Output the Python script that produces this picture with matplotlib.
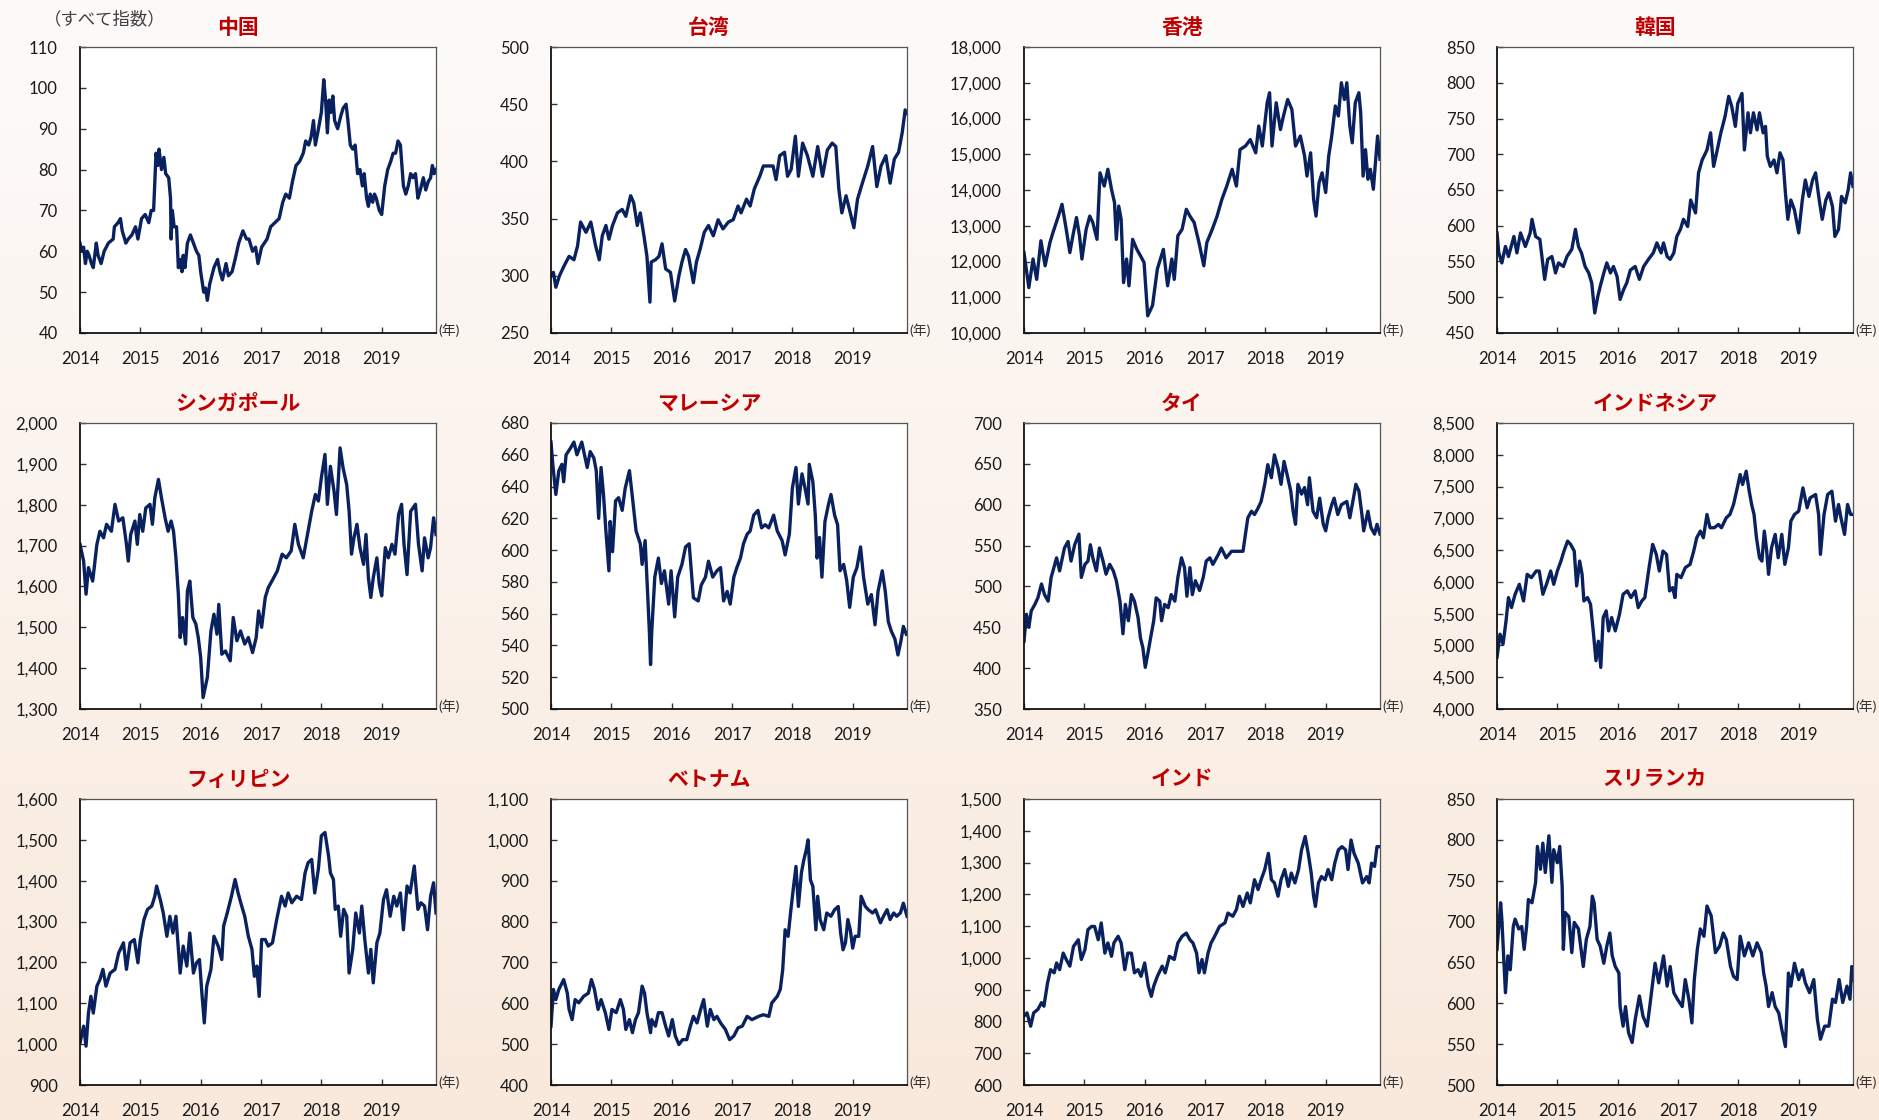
import matplotlib
matplotlib.use('Agg')
import matplotlib.pyplot as plt
import numpy as np
from matplotlib.ticker import FuncFormatter

plt.rcParams['font.family'] = ['Lato', 'Noto Sans CJK JP', 'DejaVu Sans']

# ---------------- data (year, index value) ----------------
years = [2014, 2015, 2016, 2017, 2018, 2019]

china = [(2014.00,62),(2014.03,60),(2014.06,61),(2014.09,57),(2014.12,60),(2014.15,59),(2014.19,57),(2014.22,56),
 (2014.27,62),(2014.30,59),(2014.35,57),(2014.40,60),(2014.47,62),(2014.55,63),(2014.57,66),(2014.63,67),(2014.67,68),
 (2014.70,65),(2014.76,62),(2014.80,63),(2014.86,64),(2014.92,66),(2014.96,63),(2015.02,68),(2015.08,69),(2015.14,67),
 (2015.18,70),(2015.22,70),(2015.26,84),(2015.29,81),(2015.31,85),(2015.35,80),(2015.39,83),(2015.42,79),(2015.47,78),
 (2015.50,73),(2015.51,63),(2015.53,70),(2015.56,66),(2015.60,66),(2015.63,56),(2015.66,58),(2015.69,55),(2015.71,59),
 (2015.74,56),(2015.78,62),(2015.83,64),(2015.88,62),(2015.93,60),(2015.97,59),(2016.00,55),(2016.05,50),(2016.08,51),
 (2016.11,48),(2016.15,52),(2016.22,56),(2016.28,58),(2016.32,55),(2016.36,53),(2016.42,57),(2016.46,54),(2016.52,55),
 (2016.57,58),(2016.63,62),(2016.70,65),(2016.76,63),(2016.80,63),(2016.86,60),(2016.91,61),(2016.95,57),(2017.01,61),
 (2017.10,63),(2017.16,66),(2017.23,67),(2017.30,68),(2017.36,72),(2017.41,74),(2017.47,73),(2017.52,77),(2017.58,81),
 (2017.64,82),(2017.70,84),(2017.74,87),(2017.79,86),(2017.83,88),(2017.87,92),(2017.90,86),(2017.94,89),(2018.00,94),
 (2018.04,102),(2018.07,97),(2018.10,89),(2018.13,97),(2018.16,94),(2018.19,98),(2018.22,92),(2018.27,90),(2018.32,93),
 (2018.36,95),(2018.41,96),(2018.44,92),(2018.48,86),(2018.52,85),(2018.56,86),(2018.60,79),(2018.64,80),(2018.68,76),
 (2018.71,79),(2018.75,73),(2018.78,71),(2018.81,74),(2018.85,72),(2018.88,74),(2018.91,73),(2018.96,70),(2019.00,69),
 (2019.05,76),(2019.10,80),(2019.15,82),(2019.19,84),(2019.23,84),(2019.27,87),(2019.31,86),(2019.36,76),(2019.40,74),
 (2019.44,76),(2019.48,79),(2019.52,78),(2019.56,79),(2019.60,73),(2019.64,75),(2019.69,78),(2019.73,75),(2019.77,77),
 (2019.81,78),(2019.84,81),(2019.87,79),(2019.90,80)]

taiwan = [(2014.00,300),(2014.04,303),(2014.08,290),(2014.14,300),(2014.22,309),(2014.30,317),(2014.38,314),(2014.44,326),
 (2014.49,347),(2014.58,338),(2014.66,347),(2014.74,326),(2014.80,314),(2014.85,335),(2014.91,344),(2014.96,332),
 (2015.02,344),(2015.10,355),(2015.18,358),(2015.24,352),(2015.32,370),(2015.37,364),(2015.43,344),(2015.48,355),
 (2015.54,335),(2015.59,317),(2015.64,277),(2015.66,312),(2015.73,314),(2015.79,317),(2015.84,328),(2015.90,306),
 (2015.98,303),(2016.05,278),(2016.12,300),(2016.17,312),(2016.23,323),(2016.28,317),(2016.36,294),(2016.41,312),
 (2016.47,323),(2016.54,338),(2016.61,344),(2016.69,335),(2016.77,349),(2016.85,341),(2016.94,347),(2017.02,349),
 (2017.10,361),(2017.15,355),(2017.24,367),(2017.30,361),(2017.37,376),(2017.46,387),(2017.52,396),(2017.60,396),
 (2017.68,396),(2017.73,384),(2017.79,405),(2017.87,408),(2017.92,387),(2017.98,393),(2018.05,422),(2018.10,387),
 (2018.17,416),(2018.25,405),(2018.34,387),(2018.42,413),(2018.50,387),(2018.58,410),(2018.66,416),(2018.72,413),
 (2018.77,376),(2018.82,355),(2018.89,370),(2018.96,355),(2019.02,342),(2019.08,367),(2019.16,381),(2019.25,396),
 (2019.33,413),(2019.40,378),(2019.47,396),(2019.55,405),(2019.62,381),(2019.69,402),(2019.76,408),(2019.82,425),
 (2019.87,445),(2019.90,442)]

hongkong = [(2014.00,12250),(2014.08,11270),(2014.15,12070),(2014.21,11500),(2014.28,12580),(2014.35,11880),(2014.43,12530),
 (2014.48,12810),(2014.57,13270),(2014.63,13600),(2014.70,12900),(2014.76,12250),(2014.81,12720),(2014.87,13230),
 (2014.92,12720),(2014.96,12070),(2015.03,12900),(2015.09,13270),(2015.14,13090),(2015.21,12620),(2015.26,14480),
 (2015.33,14110),(2015.39,14580),(2015.45,14020),(2015.50,13650),(2015.53,12620),(2015.57,13550),(2015.61,13180),
 (2015.65,11410),(2015.70,12070),(2015.74,11320),(2015.80,12620),(2015.87,12340),(2015.93,12160),(2015.99,11970),
 (2016.05,10480),(2016.13,10770),(2016.21,11790),(2016.31,12340),(2016.38,11320),(2016.45,12070),(2016.49,11500),
 (2016.55,12720),(2016.62,12900),(2016.69,13460),(2016.75,13270),(2016.82,13090),(2016.90,12530),(2016.98,11880),
 (2017.03,12530),(2017.12,12900),(2017.20,13270),(2017.28,13740),(2017.36,14110),(2017.45,14580),(2017.52,14110),
 (2017.58,15130),(2017.67,15230),(2017.75,15410),(2017.84,15040),(2017.89,15790),(2017.95,15230),(2018.03,16440),
 (2018.07,16720),(2018.11,15230),(2018.18,16440),(2018.25,15690),(2018.30,16070),(2018.37,16530),(2018.44,16250),
 (2018.50,15230),(2018.58,15510),(2018.65,14950),(2018.69,14390),(2018.75,15040),(2018.80,13740),(2018.84,13270),
 (2018.89,14200),(2018.94,14480),(2019.00,13930),(2019.05,14950),(2019.10,15510),(2019.16,16350),(2019.21,16070),
 (2019.26,17000),(2019.31,16530),(2019.35,17000),(2019.40,15790),(2019.44,15320),(2019.49,16440),(2019.55,16720),
 (2019.58,16160),(2019.62,14390),(2019.66,15130),(2019.70,14300),(2019.74,14580),(2019.79,14020),(2019.82,14670),
 (2019.86,15510),(2019.90,14860)]

korea = [(2014.00,590),(2014.03,562),(2014.08,548),(2014.14,571),(2014.19,557),(2014.28,585),(2014.33,562),(2014.39,590),
 (2014.47,571),(2014.55,590),(2014.58,609),(2014.64,585),(2014.71,581),(2014.75,553),(2014.79,525),(2014.84,553),
 (2014.91,557),(2014.97,534),(2015.02,548),(2015.10,543),(2015.16,557),(2015.24,567),(2015.30,595),(2015.35,571),
 (2015.40,562),(2015.46,543),(2015.52,534),(2015.57,520),(2015.62,478),(2015.67,501),(2015.71,515),(2015.77,534),
 (2015.82,548),(2015.88,534),(2015.93,543),(2015.99,529),(2016.04,497),(2016.10,511),(2016.15,520),(2016.21,538),
 (2016.29,543),(2016.36,525),(2016.43,543),(2016.51,553),(2016.59,562),(2016.65,576),(2016.72,562),(2016.76,576),
 (2016.82,557),(2016.87,553),(2016.93,562),(2016.98,585),(2017.04,595),(2017.09,609),(2017.16,599),(2017.21,636),
 (2017.29,618),(2017.34,674),(2017.40,692),(2017.48,706),(2017.54,730),(2017.59,683),(2017.65,706),(2017.71,730),
 (2017.78,753),(2017.84,781),(2017.89,767),(2017.95,739),(2017.99,771),(2018.06,785),(2018.10,706),(2018.16,758),
 (2018.20,730),(2018.25,758),(2018.31,734),(2018.35,758),(2018.41,730),(2018.45,739),(2018.48,697),(2018.53,683),
 (2018.59,692),(2018.64,674),(2018.69,702),(2018.74,692),(2018.78,646),(2018.82,609),(2018.87,636),(2018.93,622),
 (2019.00,590),(2019.06,636),(2019.11,664),(2019.17,641),(2019.23,664),(2019.28,674),(2019.34,636),(2019.39,609),
 (2019.45,636),(2019.50,646),(2019.56,627),(2019.60,585),(2019.66,595),(2019.71,641),(2019.77,632),(2019.82,650),
 (2019.86,674),(2019.90,655)]

singapore = [(2014.00,1703),(2014.06,1662),(2014.10,1581),(2014.14,1646),(2014.21,1613),(2014.28,1703),(2014.33,1735),
 (2014.39,1719),(2014.44,1752),(2014.52,1735),(2014.58,1801),(2014.64,1760),(2014.71,1768),(2014.77,1703),(2014.80,1662),
 (2014.84,1727),(2014.91,1760),(2014.95,1703),(2014.99,1776),(2015.04,1735),(2015.09,1792),(2015.16,1801),(2015.20,1752),
 (2015.24,1817),(2015.30,1862),(2015.35,1817),(2015.41,1768),(2015.46,1735),(2015.51,1760),(2015.55,1735),(2015.59,1670),
 (2015.63,1581),(2015.66,1475),(2015.70,1524),(2015.75,1459),(2015.78,1589),(2015.82,1613),(2015.87,1524),(2015.92,1508),
 (2015.96,1475),(2016.00,1426),(2016.04,1328),(2016.11,1377),(2016.17,1491),(2016.22,1532),(2016.27,1483),(2016.30,1556),
 (2016.35,1434),(2016.41,1442),(2016.49,1418),(2016.54,1524),(2016.60,1467),(2016.66,1491),(2016.73,1459),(2016.79,1475),
 (2016.86,1438),(2016.92,1475),(2016.96,1540),(2017.01,1500),(2017.07,1573),(2017.12,1597),(2017.18,1613),(2017.27,1638),
 (2017.35,1679),(2017.42,1670),(2017.50,1687),(2017.56,1752),(2017.62,1703),(2017.70,1670),(2017.76,1719),(2017.84,1784),
 (2017.90,1825),(2017.95,1809),(2018.00,1866),(2018.06,1923),(2018.10,1801),(2018.15,1894),(2018.21,1833),(2018.25,1776),
 (2018.31,1939),(2018.36,1890),(2018.42,1849),(2018.46,1784),(2018.50,1679),(2018.54,1719),(2018.59,1752),(2018.64,1695),
 (2018.70,1654),(2018.74,1727),(2018.78,1621),(2018.82,1573),(2018.86,1621),(2018.92,1670),(2018.96,1605),(2019.00,1577),
 (2019.06,1695),(2019.11,1670),(2019.17,1703),(2019.22,1679),(2019.28,1776),(2019.33,1801),(2019.37,1703),(2019.42,1629),
 (2019.48,1784),(2019.56,1801),(2019.61,1703),(2019.67,1638),(2019.71,1719),(2019.77,1670),(2019.81,1695),(2019.86,1768),
 (2019.90,1727)]

malaysia = [(2014.00,668),(2014.03,654),(2014.08,635),(2014.13,650),(2014.18,654),(2014.21,643),(2014.25,660),(2014.32,664),
 (2014.38,668),(2014.43,660),(2014.51,668),(2014.60,652),(2014.65,662),(2014.71,658),(2014.75,650),(2014.79,620),
 (2014.83,652),(2014.87,635),(2014.91,612),(2014.96,587),(2014.98,618),(2015.02,599),(2015.07,631),(2015.12,633),
 (2015.18,625),(2015.23,639),(2015.30,650),(2015.35,633),(2015.41,612),(2015.48,604),(2015.51,591),(2015.56,606),
 (2015.60,574),(2015.63,549),(2015.65,528),(2015.67,549),(2015.72,583),(2015.78,595),(2015.83,579),(2015.88,587),
 (2015.95,566),(2015.99,587),(2016.05,558),(2016.10,583),(2016.17,591),(2016.23,602),(2016.29,604),(2016.36,570),
 (2016.44,568),(2016.49,578),(2016.56,583),(2016.61,593),(2016.68,583),(2016.75,587),(2016.81,589),(2016.86,568),
 (2016.92,574),(2016.97,566),(2017.03,583),(2017.08,589),(2017.14,595),(2017.19,604),(2017.25,610),(2017.30,612),
 (2017.36,622),(2017.43,625),(2017.49,614),(2017.55,616),(2017.61,614),(2017.69,622),(2017.75,612),(2017.83,606),
 (2017.88,597),(2017.95,610),(2018.00,639),(2018.06,652),(2018.10,629),(2018.16,648),(2018.21,639),(2018.26,629),
 (2018.28,654),(2018.34,643),(2018.38,622),(2018.41,595),(2018.45,608),(2018.49,583),(2018.54,618),(2018.60,629),
 (2018.64,635),(2018.70,622),(2018.75,616),(2018.79,587),(2018.85,591),(2018.90,581),(2018.95,564),(2019.01,583),
 (2019.07,589),(2019.13,602),(2019.18,583),(2019.25,566),(2019.31,572),(2019.37,553),(2019.42,574),(2019.49,587),
 (2019.54,574),(2019.59,555),(2019.64,549),(2019.70,544),(2019.75,534),(2019.80,543),(2019.84,552),(2019.89,547)]

thailand = [(2014.00,433),(2014.04,466),(2014.08,450),(2014.12,470),(2014.18,478),(2014.23,486),(2014.29,503),(2014.34,490),
 (2014.40,482),(2014.45,511),(2014.54,535),(2014.59,519),(2014.67,547),(2014.73,555),(2014.78,531),(2014.84,551),
 (2014.91,564),(2014.95,511),(2015.01,527),(2015.06,531),(2015.10,551),(2015.14,535),(2015.20,519),(2015.25,547),
 (2015.31,531),(2015.36,515),(2015.42,527),(2015.48,519),(2015.53,507),(2015.59,482),(2015.64,442),(2015.68,478),
 (2015.73,458),(2015.78,490),(2015.83,482),(2015.89,462),(2015.93,437),(2015.97,425),(2016.01,401),(2016.06,421),
 (2016.11,442),(2016.15,458),(2016.19,486),(2016.25,482),(2016.28,458),(2016.33,478),(2016.39,474),(2016.44,490),
 (2016.50,482),(2016.55,511),(2016.61,535),(2016.66,523),(2016.70,488),(2016.75,523),(2016.79,490),(2016.84,507),
 (2016.91,495),(2016.97,511),(2017.02,531),(2017.08,535),(2017.13,527),(2017.22,539),(2017.27,547),(2017.35,535),
 (2017.44,543),(2017.55,543),(2017.63,543),(2017.67,564),(2017.71,584),(2017.77,592),(2017.82,588),(2017.88,596),
 (2017.93,604),(2017.99,625),(2018.04,649),(2018.10,633),(2018.15,661),(2018.21,645),(2018.26,625),(2018.31,653),
 (2018.36,637),(2018.42,617),(2018.46,592),(2018.50,576),(2018.54,625),(2018.60,613),(2018.65,621),(2018.70,600),
 (2018.73,633),(2018.79,592),(2018.85,584),(2018.90,608),(2018.96,576),(2019.00,568),(2019.04,584),(2019.10,600),
 (2019.14,608),(2019.20,588),(2019.26,600),(2019.35,604),(2019.40,584),(2019.46,608),(2019.50,625),(2019.55,617),
 (2019.60,588),(2019.63,568),(2019.70,592),(2019.75,572),(2019.81,564),(2019.85,576),(2019.90,564)]

indonesia = [(2014.00,4811),(2014.05,5177),(2014.10,5020),(2014.15,5387),(2014.19,5753),(2014.24,5596),(2014.30,5805),
 (2014.37,5962),(2014.44,5700),(2014.50,6119),(2014.57,6067),(2014.65,6171),(2014.70,6171),(2014.76,5805),(2014.82,5962),
 (2014.89,6171),(2014.94,5962),(2015.00,6171),(2015.06,6328),(2015.11,6485),(2015.17,6642),(2015.22,6590),(2015.28,6485),
 (2015.32,5936),(2015.37,6328),(2015.41,6119),(2015.44,5700),(2015.50,5753),(2015.55,5648),(2015.60,5177),(2015.64,4759),
 (2015.68,5067),(2015.72,4654),(2015.76,5439),(2015.81,5544),(2015.85,5229),(2015.90,5439),(2015.96,5229),(2016.03,5491),
 (2016.09,5805),(2016.16,5858),(2016.22,5753),(2016.29,5858),(2016.34,5596),(2016.40,5700),(2016.45,5753),(2016.52,6224),
 (2016.58,6590),(2016.64,6433),(2016.69,6171),(2016.75,6485),(2016.81,6433),(2016.86,5858),(2016.91,5910),(2016.95,5753),
 (2016.98,6119),(2017.05,6067),(2017.12,6224),(2017.20,6276),(2017.26,6485),(2017.31,6695),(2017.37,6799),(2017.42,6695),
 (2017.48,7061),(2017.53,6852),(2017.60,6852),(2017.67,6904),(2017.72,6852),(2017.80,7009),(2017.86,7061),(2017.92,7218),
 (2017.97,7427),(2018.03,7689),(2018.07,7532),(2018.13,7741),(2018.18,7427),(2018.22,7218),(2018.26,7061),(2018.30,6695),
 (2018.35,6380),(2018.39,6328),(2018.43,6799),(2018.47,6485),(2018.50,6119),(2018.55,6538),(2018.61,6747),(2018.66,6380),
 (2018.72,6747),(2018.77,6276),(2018.83,6538),(2018.87,6956),(2018.93,7061),(2019.00,7113),(2019.07,7479),(2019.14,7166),
 (2019.19,7322),(2019.28,7375),(2019.33,7061),(2019.36,6433),(2019.42,7061),(2019.48,7375),(2019.55,7427),(2019.61,6956),
 (2019.66,7218),(2019.70,7009),(2019.76,6747),(2019.81,7218),(2019.86,7061),(2019.90,7061)]

philippines = [(2014.00,1003),(2014.06,1044),(2014.10,995),(2014.14,1076),(2014.18,1117),(2014.22,1076),(2014.28,1142),
 (2014.33,1158),(2014.38,1183),(2014.43,1142),(2014.50,1174),(2014.58,1183),(2014.64,1223),(2014.72,1248),(2014.77,1183),
 (2014.83,1248),(2014.90,1256),(2014.96,1199),(2015.00,1256),(2015.06,1305),(2015.12,1330),(2015.19,1338),(2015.24,1362),
 (2015.27,1387),(2015.33,1354),(2015.38,1321),(2015.44,1264),(2015.49,1313),(2015.54,1272),(2015.59,1313),(2015.66,1174),
 (2015.71,1240),(2015.77,1191),(2015.82,1272),(2015.88,1174),(2015.93,1199),(2015.98,1207),(2016.02,1125),(2016.06,1052),
 (2016.10,1142),(2016.17,1183),(2016.22,1264),(2016.29,1240),(2016.35,1207),(2016.38,1289),(2016.44,1321),(2016.51,1362),
 (2016.57,1403),(2016.62,1370),(2016.68,1338),(2016.73,1313),(2016.79,1264),(2016.85,1232),(2016.89,1166),(2016.93,1191),
 (2016.97,1117),(2017.01,1256),(2017.07,1256),(2017.12,1240),(2017.19,1248),(2017.26,1305),(2017.34,1362),(2017.40,1338),
 (2017.45,1370),(2017.51,1346),(2017.59,1362),(2017.67,1354),(2017.73,1419),(2017.78,1444),(2017.84,1452),(2017.89,1370),
 (2017.95,1428),(2018.00,1510),(2018.06,1518),(2018.12,1460),(2018.15,1419),(2018.20,1403),(2018.23,1330),(2018.28,1338),
 (2018.32,1264),(2018.37,1330),(2018.42,1313),(2018.46,1174),(2018.52,1232),(2018.57,1321),(2018.63,1272),(2018.67,1338),
 (2018.72,1256),(2018.78,1174),(2018.82,1232),(2018.86,1150),(2018.92,1248),(2018.97,1272),(2019.03,1354),(2019.08,1378),
 (2019.14,1313),(2019.20,1362),(2019.25,1338),(2019.31,1370),(2019.36,1280),(2019.42,1387),(2019.47,1370),(2019.54,1436),
 (2019.60,1330),(2019.65,1346),(2019.71,1338),(2019.76,1280),(2019.81,1362),(2019.86,1395),(2019.90,1321)]

vietnam = [(2014.00,544),(2014.04,634),(2014.08,609),(2014.13,634),(2014.21,658),(2014.27,625),(2014.30,585),(2014.35,560),
 (2014.40,609),(2014.46,601),(2014.54,617),(2014.62,625),(2014.67,658),(2014.72,634),(2014.78,585),(2014.83,609),
 (2014.90,577),(2014.96,536),(2015.01,585),(2015.08,577),(2015.15,609),(2015.20,585),(2015.24,536),(2015.30,560),
 (2015.35,528),(2015.40,560),(2015.45,577),(2015.51,642),(2015.55,625),(2015.59,577),(2015.65,528),(2015.67,560),
 (2015.73,544),(2015.78,577),(2015.84,577),(2015.90,544),(2015.95,520),(2016.01,560),(2016.06,520),(2016.12,499),
 (2016.18,511),(2016.25,511),(2016.31,544),(2016.36,568),(2016.42,552),(2016.48,585),(2016.53,609),(2016.59,544),
 (2016.64,585),(2016.70,560),(2016.75,568),(2016.81,552),(2016.89,536),(2016.96,511),(2017.03,520),(2017.10,540),
 (2017.17,544),(2017.25,568),(2017.33,560),(2017.44,568),(2017.52,572),(2017.61,568),(2017.66,601),(2017.75,617),
 (2017.80,634),(2017.84,682),(2017.88,780),(2017.93,764),(2017.97,821),(2018.02,886),(2018.06,935),(2018.10,837),
 (2018.15,919),(2018.19,951),(2018.23,975),(2018.26,1000),(2018.30,902),(2018.34,886),(2018.39,780),(2018.42,862),
 (2018.46,805),(2018.52,780),(2018.57,821),(2018.64,813),(2018.70,829),(2018.76,837),(2018.80,772),(2018.84,731),
 (2018.88,748),(2018.92,805),(2018.96,780),(2019.00,735),(2019.04,764),(2019.10,764),(2019.14,862),(2019.21,837),
 (2019.26,829),(2019.33,821),(2019.38,829),(2019.46,797),(2019.51,813),(2019.57,829),(2019.62,805),(2019.68,821),
 (2019.73,813),(2019.79,821),(2019.84,845),(2019.90,813)]

india = [(2014.00,817),(2014.05,827),(2014.11,785),(2014.16,827),(2014.23,838),(2014.29,859),(2014.33,848),(2014.39,921),
 (2014.44,963),(2014.50,953),(2014.54,984),(2014.59,963),(2014.65,1015),(2014.70,995),(2014.76,974),(2014.82,1036),
 (2014.90,1057),(2014.95,995),(2015.01,1026),(2015.06,1089),(2015.12,1099),(2015.17,1099),(2015.23,1057),(2015.28,1110),
 (2015.34,1015),(2015.39,1047),(2015.45,1005),(2015.49,1047),(2015.56,1068),(2015.61,1047),(2015.67,963),(2015.72,1015),
 (2015.78,1015),(2015.83,953),(2015.89,963),(2015.94,942),(2016.00,984),(2016.06,911),(2016.11,879),(2016.15,911),
 (2016.21,942),(2016.29,974),(2016.34,953),(2016.41,1005),(2016.49,995),(2016.55,1047),(2016.62,1068),(2016.69,1078),
 (2016.75,1057),(2016.80,1047),(2016.86,1015),(2016.90,953),(2016.95,995),(2016.99,953),(2017.05,1015),(2017.10,1047),
 (2017.16,1068),(2017.24,1099),(2017.33,1110),(2017.38,1141),(2017.46,1131),(2017.52,1152),(2017.57,1194),(2017.63,1162),
 (2017.70,1204),(2017.75,1173),(2017.82,1246),(2017.88,1215),(2017.93,1246),(2017.99,1278),(2018.05,1329),(2018.10,1246),
 (2018.15,1236),(2018.21,1194),(2018.26,1246),(2018.32,1278),(2018.38,1225),(2018.43,1267),(2018.49,1236),(2018.55,1278),
 (2018.60,1340),(2018.66,1382),(2018.71,1329),(2018.76,1267),(2018.80,1194),(2018.83,1162),(2018.88,1236),(2018.93,1256),
 (2018.99,1246),(2019.04,1278),(2019.10,1246),(2019.15,1298),(2019.21,1340),(2019.27,1350),(2019.33,1340),(2019.37,1278),
 (2019.42,1371),(2019.47,1329),(2019.54,1298),(2019.61,1236),(2019.68,1256),(2019.72,1236),(2019.76,1298),(2019.81,1288),
 (2019.85,1350),(2019.90,1350)]

srilanka = [(2014.00,666),(2014.03,694),(2014.06,723),(2014.08,703),(2014.11,658),(2014.14,613),(2014.18,658),(2014.22,641),
 (2014.27,694),(2014.30,703),(2014.36,691),(2014.41,694),(2014.45,666),(2014.49,694),(2014.52,727),(2014.58,723),
 (2014.64,748),(2014.67,792),(2014.72,764),(2014.76,796),(2014.80,760),(2014.86,805),(2014.91,748),(2014.94,788),
 (2015.00,772),(2015.04,792),(2015.08,743),(2015.10,666),(2015.13,711),(2015.19,706),(2015.24,662),(2015.28,699),
 (2015.35,691),(2015.43,645),(2015.48,678),(2015.54,694),(2015.58,731),(2015.61,723),(2015.66,678),(2015.71,670),
 (2015.77,649),(2015.82,670),(2015.87,686),(2015.91,658),(2015.96,645),(2016.02,637),(2016.04,596),(2016.09,572),
 (2016.13,596),(2016.18,564),(2016.24,552),(2016.29,580),(2016.36,609),(2016.42,584),(2016.49,572),(2016.54,601),
 (2016.62,649),(2016.68,625),(2016.76,658),(2016.82,621),(2016.87,645),(2016.93,613),(2016.99,605),(2017.07,596),
 (2017.12,629),(2017.18,605),(2017.23,576),(2017.27,629),(2017.32,666),(2017.37,691),(2017.43,682),(2017.48,719),
 (2017.55,707),(2017.62,662),(2017.69,670),(2017.75,686),(2017.80,678),(2017.87,645),(2017.92,633),(2017.98,629),
 (2018.03,682),(2018.10,658),(2018.17,674),(2018.24,658),(2018.31,674),(2018.38,662),(2018.42,637),(2018.46,621),
 (2018.50,596),(2018.56,613),(2018.61,596),(2018.67,588),(2018.72,568),(2018.78,547),(2018.83,637),(2018.87,621),
 (2018.93,649),(2019.00,629),(2019.06,641),(2019.11,625),(2019.18,613),(2019.25,629),(2019.31,580),(2019.36,556),
 (2019.43,572),(2019.50,572),(2019.56,605),(2019.61,601),(2019.67,629),(2019.73,601),(2019.80,621),(2019.85,605),
 (2019.88,645),(2019.90,629)]

titles = ['中国', '台湾', '香港', '韓国',
          'シンガポール', 'マレーシア', 'タイ', 'インドネシア',
          'フィリピン', 'ベトナム', 'インド', 'スリランカ']
series = [china, taiwan, hongkong, korea,
          singapore, malaysia, thailand, indonesia,
          philippines, vietnam, india, srilanka]
y_ranges = [(40, 110, 10), (250, 500, 50), (10000, 18000, 1000), (450, 850, 50),
            (1300, 2000, 100), (500, 680, 20), (350, 700, 50), (4000, 8500, 500),
            (900, 1600, 100), (400, 1100, 100), (600, 1500, 100), (500, 850, 50)]

# ---------------- layout ----------------
W, H = 1879, 1120
fig = plt.figure(figsize=(W / 100, H / 100), dpi=100)

# background gradient
bg = fig.add_axes([0, 0, 1, 1], zorder=-10)
top_c = np.array([253, 251, 250]) / 255
bot_c = np.array([249, 233, 220]) / 255
f = np.linspace(0, 1, 256)[:, None, None]
grad = top_c[None, None, :] * (1 - f) + bot_c[None, None, :] * f
bg.imshow(grad, aspect='auto', extent=[0, 1, 0, 1])
bg.axis('off')

col_left = [80, 551, 1024, 1497]
row_top = [47, 423, 799]
aw, ah = 356, 286
line_color = '#0A215F'
fmt = FuncFormatter(lambda v, p: f'{v:,.0f}')

for i, (title, data, (y0, y1, st)) in enumerate(zip(titles, series, y_ranges)):
    r, c = divmod(i, 4)
    lpx, tpx = col_left[c], row_top[r]
    ax = fig.add_axes([lpx / W, 1 - (tpx + ah) / H, aw / W, ah / H])
    ax.set_facecolor('white')
    t = [p[0] for p in data]
    v = [p[1] for p in data]
    ax.plot(t, v, color=line_color, lw=2.4, solid_joinstyle='round')
    ax.set_xlim(2014, 2019.9)
    ax.set_ylim(y0, y1)
    ax.set_xticks(years)
    ax.set_xticklabels([str(y) for y in years])
    ax.set_yticks(np.arange(y0, y1 + st / 2, st))
    ax.yaxis.set_major_formatter(fmt)
    ax.tick_params(direction='in', length=4.5, width=1.0, color='#333333',
                   labelsize=12, labelcolor='#1a1a1a')
    ax.tick_params(axis='y', pad=16)
    ax.tick_params(axis='x', pad=13)
    for s in ['left', 'bottom']:
        ax.spines[s].set_color('#111111')
        ax.spines[s].set_linewidth(1.3)
    for s in ['top', 'right']:
        ax.spines[s].set_color('#555555')
        ax.spines[s].set_linewidth(0.9)
    ax.annotate('(年)', xy=(1, 0), xycoords='axes fraction', xytext=(2, 2),
                textcoords='offset points', ha='left', va='center',
                fontsize=10, color='#333333')
    cx = lpx + aw / 2 - 20
    fig.text(cx / W, 1 - (tpx - 20) / H, title, ha='center', va='center',
             fontsize=15, fontweight='bold', color='#C00000',
             family=['Noto Sans CJK JP', 'DejaVu Sans'])

fig.text(44 / W, 1 - 19 / H, '（すべて指数）', ha='left', va='center',
         fontsize=12.5, color='#404040', family=['Noto Sans CJK JP', 'DejaVu Sans'])

fig.savefig('out.png', dpi=100)
